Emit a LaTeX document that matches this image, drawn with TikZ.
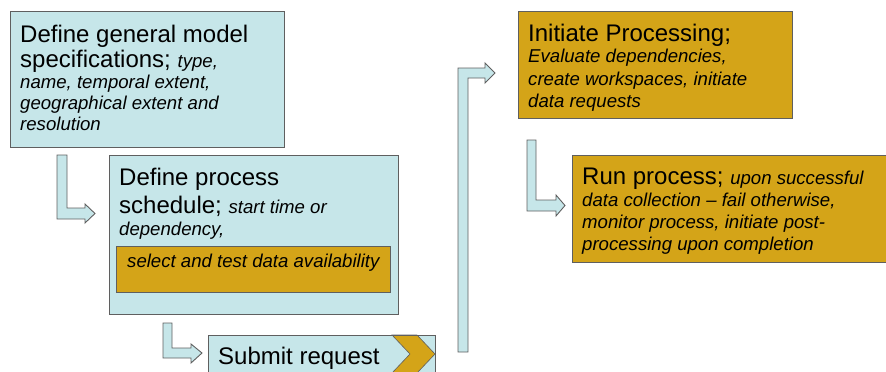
\documentclass[tikz,border=0pt]{standalone}
\usepackage{fontspec}
\setmainfont{Liberation Sans}
\definecolor{lblue}{RGB}{198,230,233}
\definecolor{gold}{RGB}{212,164,24}
\definecolor{edge}{RGB}{95,95,95}
\newcommand{\smallit}{\fontsize{18.6}{22}\selectfont\itshape}
\begin{document}
\begin{tikzpicture}[x=1pt,y=-1pt,
  bluebox/.style={draw=edge,fill=lblue,line width=1pt,anchor=north west,inner sep=0pt},
  goldbox/.style={draw=edge,fill=gold,line width=1pt,anchor=north west,inner sep=0pt},
  blockarrow/.style={draw=edge,fill=lblue,line width=0.9pt,line join=miter},
  bigtxt/.style={anchor=base west,inner sep=0pt,font=\fontsize{24}{28}\selectfont},
  smalltxt/.style={anchor=base west,inner sep=0pt,font=\smallit}]
\useasboundingbox (0,0) rectangle (886,372);
\clip (0,0) rectangle (886,372);
% boxes
\node[bluebox,minimum width=274pt,minimum height=136pt] (b1) at (10,11) {};
\node[bluebox,minimum width=289pt,minimum height=159pt] (b2) at (109,155) {};
\node[goldbox,minimum width=274pt,minimum height=46pt] (b2g) at (116,246) {};
\node[bluebox,minimum width=227pt,minimum height=50pt] (b3) at (208,335) {};
\fill[gold,draw=edge,line width=0.6pt] (392,335) -- (417,335) -- (435,354) -- (417,373) -- (392,373) -- (410,354) -- cycle;
\draw[edge,line width=1pt] (208,335) rectangle (435,385);
\node[goldbox,minimum width=274pt,minimum height=107pt] (b4) at (518,11) {};
\node[goldbox,minimum width=330pt,minimum height=107pt] (b5) at (572,155) {};
% block arrows
\draw[blockarrow] (57,155) -- (67,155) -- (67,208) -- (85,208) -- (85,204) -- (95,213.5) -- (85,223) -- (85,219) -- (57,219) -- cycle;
\draw[blockarrow] (163,323) -- (172,323) -- (172,348) -- (191,348) -- (191,344) -- (202,353) -- (191,363) -- (191,358) -- (163,358) -- cycle;
\draw[blockarrow] (458,352) -- (458,68) -- (485,68) -- (485,63) -- (495,73) -- (485,83) -- (485,78) -- (468,78) -- (468,352) -- cycle;
\draw[blockarrow] (527,140) -- (536,140) -- (536,200) -- (556,200) -- (556,195) -- (565,205.5) -- (556,216) -- (556,211) -- (527,211) -- cycle;
% texts box 1
\node[bigtxt] (t1a) at (20,42) {Define general model};
\node[bigtxt] (t1b) at (20,67) {specifications; {\smallit type,}};
\node[smalltxt] (t1c) at (20,88) {name, temporal extent,};
\node[smalltxt] (t1d) at (20,109) {geographical extent and};
\node[smalltxt] (t1e) at (20,130) {resolution};
% box 2
\node[bigtxt] (t2a) at (119,185) {Define process};
\node[bigtxt] (t2b) at (119,213) {schedule; {\smallit start time or}};
\node[smalltxt] (t2c) at (119,235) {dependency,};
\node[smalltxt] (t2d) at (127,267.5) {select and test data availability};
% submit
\node[bigtxt] (t3) at (218,364) {Submit request};
% box 4
\node[bigtxt] (t4a) at (528,41) {Initiate Processing;};
\node[smalltxt] (t4b) at (528,62.5) {Evaluate dependencies,};
\node[smalltxt] (t4c) at (528,85) {create workspaces, initiate};
\node[smalltxt] (t4d) at (528,107) {data requests};
% box 5
\node[bigtxt] (t5a) at (582,184) {Run process; {\smallit upon successful}};
\node[smalltxt] (t5b) at (582,206) {data collection -- fail otherwise,};
\node[smalltxt] (t5c) at (582,228) {monitor process, initiate post-};
\node[smalltxt] (t5d) at (582,250) {processing upon completion};
\end{tikzpicture}
\end{document}
